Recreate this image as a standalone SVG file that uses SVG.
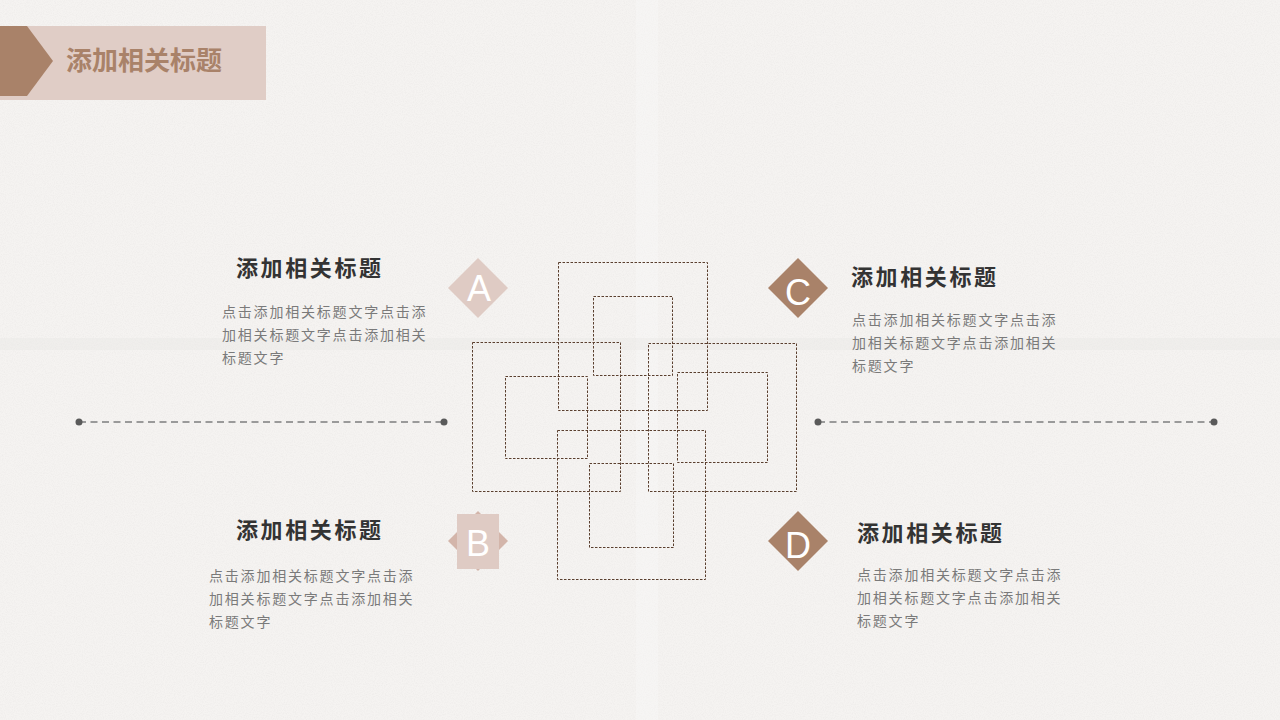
<svg xmlns="http://www.w3.org/2000/svg" width="1280" height="720" viewBox="0 0 1280 720">
<defs>
<filter id="noise" x="0" y="0" width="100%" height="100%">
<feTurbulence type="fractalNoise" baseFrequency="0.9" numOctaves="2" seed="3" result="n"/>
<feColorMatrix type="matrix" values="0 0 0 0 0.6  0 0 0 0 0.58  0 0 0 0 0.58  0 0 0 -1.6 1.0"/>
</filter>
<style>
.knot{fill:none;stroke:#5a3f2e;stroke-width:1;stroke-dasharray:2.5 1.5}
.dash{stroke:#9a9a9a;stroke-width:2;stroke-dasharray:7 4.5}
.dot{fill:#5a5a5a}
.head{font-family:"Noto Sans CJK SC","Noto Sans",sans-serif;font-size:22px;font-weight:bold;fill:#333;letter-spacing:2.6px}
.body{font-family:"Noto Sans CJK SC","Noto Sans",sans-serif;font-size:14px;fill:#7a7a7a;letter-spacing:1.8px}
.letter{font-family:"Liberation Sans",Arial,sans-serif;font-size:36px;fill:#ffffff;text-anchor:middle}
</style>
</defs>
<rect width="1280" height="720" fill="#f5f3f1"/>
<rect width="1280" height="720" filter="url(#noise)" opacity="0.18"/>
<rect x="636" y="0" width="22" height="720" fill="#faf9f8" opacity="0.35"/>
<rect x="0" y="338" width="1280" height="12" fill="#e6e3e0" opacity="0.3"/>

<g id="title">
<rect x="0" y="26" width="266" height="74" fill="#e0cdc6"/>
<polygon points="0,26 27,26 53,61 27,96 0,96" fill="#a98269"/>
<text x="66" y="70" font-family="'Noto Sans CJK SC',sans-serif" font-size="26" font-weight="bold" fill="#a98269">添加相关标题</text>
</g>

<g id="knot">
<rect class="knot" x="558.5" y="262.5" width="149" height="148"/>
<rect class="knot" x="593.5" y="296.5" width="79" height="79"/>
<rect class="knot" x="472.5" y="342.5" width="148" height="149"/>
<rect class="knot" x="505.5" y="376.5" width="82" height="82"/>
<rect class="knot" x="648.5" y="343.5" width="148" height="148"/>
<rect class="knot" x="677.5" y="372.5" width="90" height="90"/>
<rect class="knot" x="557.5" y="430.5" width="148" height="149"/>
<rect class="knot" x="589.5" y="463.5" width="84" height="84"/>
</g>

<g id="connectors">
<line class="dash" x1="79" y1="422" x2="444" y2="422"/>
<circle class="dot" cx="79" cy="422" r="3.5"/>
<circle class="dot" cx="444" cy="422" r="3.5"/>
<line class="dash" x1="818" y1="422" x2="1214" y2="422"/>
<circle class="dot" cx="818" cy="422" r="3.5"/>
<circle class="dot" cx="1214" cy="422" r="3.5"/>
</g>

<g id="nodeA">
<polygon points="478,258 508,288 478,318 448,288" fill="#dfcbc4"/>
<text class="letter" x="479" y="301">A</text>
<text class="head" x="236" y="276">添加相关标题</text>
<text class="body" x="222" y="317">点击添加相关标题文字点击添</text>
<text class="body" x="222" y="340">加相关标题文字点击添加相关</text>
<text class="body" x="222" y="363">标题文字</text>
</g>

<g id="nodeB">
<polygon points="478,511 508,541 478,571 448,541" fill="#d3b5aa"/>
<rect x="457" y="514" width="42" height="55" fill="#dfcbc4"/>
<text class="letter" x="478" y="556">B</text>
<text class="head" x="236" y="538">添加相关标题</text>
<text class="body" x="209" y="581">点击添加相关标题文字点击添</text>
<text class="body" x="209" y="604">加相关标题文字点击添加相关</text>
<text class="body" x="209" y="627">标题文字</text>
</g>

<g id="nodeC">
<polygon points="798,258 828,288 798,318 768,288" fill="#a98269"/>
<text class="letter" x="798" y="305">C</text>
<text class="head" x="851" y="285">添加相关标题</text>
<text class="body" x="852" y="325">点击添加相关标题文字点击添</text>
<text class="body" x="852" y="348">加相关标题文字点击添加相关</text>
<text class="body" x="852" y="371">标题文字</text>
</g>

<g id="nodeD">
<polygon points="798,511 828,541 798,571 768,541" fill="#a98269"/>
<text class="letter" x="798" y="558">D</text>
<text class="head" x="857" y="541">添加相关标题</text>
<text class="body" x="857" y="580">点击添加相关标题文字点击添</text>
<text class="body" x="857" y="603">加相关标题文字点击添加相关</text>
<text class="body" x="857" y="626">标题文字</text>
</g>
</svg>
